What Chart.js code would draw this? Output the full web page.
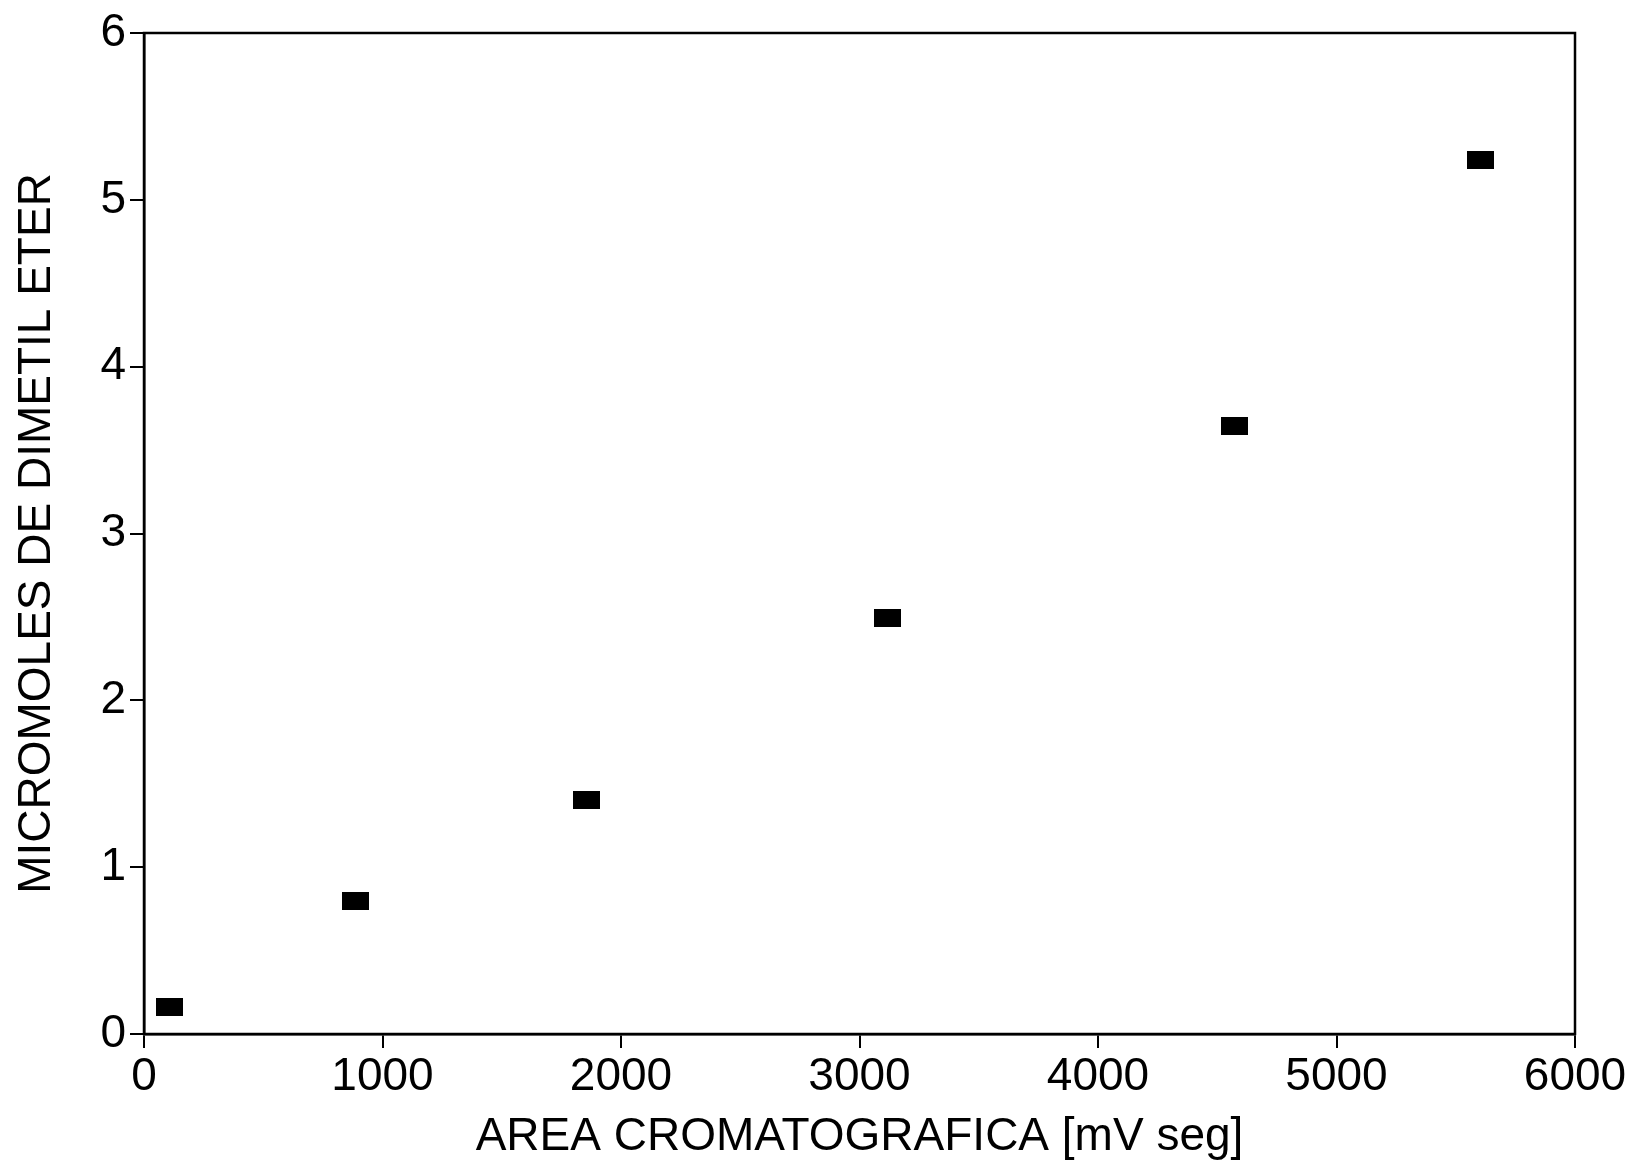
<!DOCTYPE html>
<html>
<head>
<meta charset="utf-8">
<script src="https://cdn.jsdelivr.net/npm/chart.js@4/dist/chart.umd.min.js"></script>
<style>
  html, body { margin: 0; padding: 0; background: #fff; }
  #wrap { width: 1639px; height: 1166px; }
</style>
</head>
<body>
<div id="wrap"><canvas id="myChart"></canvas></div>
<script>
// valores
const areaCromatografica = [106, 886, 1855, 3117, 4571, 5603];
const micromolesDME = [0.16, 0.80, 1.405, 2.495, 3.647, 5.24];

const tituloX = "AREA CROMATOGRAFICA [mV seg]";
const tituloY = "MICROMOLES DE DIMETIL ETER";

// marcador rectangular negro
let marcador = document.createElement("canvas");
marcador.width = 27;
marcador.height = 18;
let mctx = marcador.getContext("2d");
mctx.fillStyle = "#000";
mctx.fillRect(0, 0, 27, 18);

const puntos = areaCromatografica.map((x, i) => ({x: x, y: micromolesDME[i]}));

const marco = {
    id: "marco",
    afterDatasetsDraw(chart) {
        const a = chart.chartArea;
        const c = chart.ctx;
        c.save();
        c.strokeStyle = "#000";
        c.lineWidth = 2.5;
        c.strokeRect(a.left, a.top, a.right - a.left, a.bottom - a.top);
        c.restore();
    }
};

const fuente = "'Liberation Sans', Arial, Helvetica, sans-serif";

let chart = new Chart(document.getElementById("myChart"), {
    type: "scatter",
    data: {
        datasets: [{
            data: puntos,
            pointStyle: marcador,
            pointRadius: 10,
            backgroundColor: "#000",
            borderColor: "#000"
        }]
    },
    options: {
        responsive: true,
        maintainAspectRatio: false,
        animation: false,
        layout: { padding: { top: 33, right: 64, left: 0, bottom: 0 } },
        plugins: {
            legend: { display: false },
            tooltip: { enabled: false }
        },
        scales: {
            x: {
                type: "linear",
                min: 0,
                max: 6000,
                ticks: {
                    stepSize: 1000,
                    color: "#000",
                    padding: 2,
                    font: { family: fuente, size: 46 },
                    maxRotation: 0,
                    callback: (v) => String(v)
                },
                grid: {
                    drawOnChartArea: false,
                    drawTicks: true,
                    tickLength: 14,
                    color: "#000",
                    lineWidth: 2
                },
                border: { color: "#000", width: 2.5 },
                title: {
                    display: true,
                    text: tituloX,
                    color: "#000",
                    font: { family: fuente, size: 46 },
                    padding: { top: 0, bottom: 1 }
                },
                afterFit(scale) { scale.height = 132; }
            },
            y: {
                type: "linear",
                min: 0,
                max: 6,
                ticks: {
                    stepSize: 1,
                    color: "#000",
                    padding: 4,
                    font: { family: fuente, size: 46 },
                    callback: (v) => String(v)
                },
                grid: {
                    drawOnChartArea: false,
                    drawTicks: true,
                    tickLength: 14,
                    color: "#000",
                    lineWidth: 2
                },
                border: { color: "#000", width: 2.5 },
                title: {
                    display: true,
                    text: tituloY,
                    color: "#000",
                    font: { family: fuente, size: 46 },
                    padding: { top: 10, bottom: 0 }
                },
                afterFit(scale) { scale.width = 144; }
            }
        }
    },
    plugins: [marco]
});
</script>
</body>
</html>
